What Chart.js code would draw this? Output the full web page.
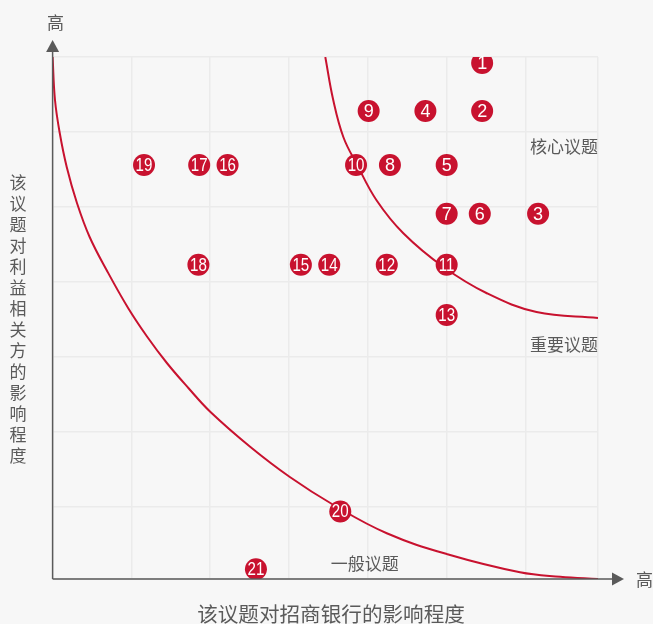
<!DOCTYPE html>
<html>
<head>
<meta charset="utf-8">
<script src="https://cdn.jsdelivr.net/npm/chart.js@4.4.0/dist/chart.umd.min.js"></script>
<style>
  html, body { margin: 0; padding: 0; background: #f7f7f7; }
  #wrap { width: 653px; height: 624px; position: relative; }
</style>
</head>
<body>
<div id="wrap"><canvas id="matrix"></canvas></div>
<script>
// Issue ids and their positions (x: impact on the bank, y: impact on stakeholders)
const issueIds = [1, 2, 3, 4, 5, 6, 7, 8, 9, 10, 11, 12, 13, 14, 15, 16, 17, 18, 19, 20, 21];
const impactOnBank = [5.45, 5.45, 6.16, 4.73, 5.00, 5.42, 5.00, 4.28, 4.01, 3.85, 5.00, 4.24, 5.00, 3.51, 3.15, 2.22, 1.86, 1.85, 1.16, 3.65, 2.58];
const impactOnStakeholders = [6.92, 6.28, 4.91, 6.28, 5.56, 4.91, 4.91, 5.56, 6.28, 5.56, 4.23, 4.23, 3.56, 4.23, 4.23, 5.56, 5.56, 4.23, 5.56, 0.94, 0.17];

// Boundary curves
const innerCurveX = [0.00, 0.03, 0.09, 0.18, 0.31, 0.47, 0.69, 0.96, 1.20, 1.45, 1.72, 2.00, 2.51, 3.01, 3.56, 4.24, 5.01, 5.93, 6.44, 6.92];
const innerCurveY = [7.00, 6.43, 5.99, 5.53, 5.05, 4.60, 4.15, 3.65, 3.27, 2.92, 2.59, 2.27, 1.80, 1.40, 1.03, 0.65, 0.37, 0.13, 0.07, 0.04];
const outerCurveX = [3.46, 3.56, 3.69, 3.86, 4.11, 4.45, 4.96, 5.51, 6.14, 6.92];
const outerCurveY = [7.00, 6.43, 5.93, 5.57, 5.09, 4.65, 4.20, 3.85, 3.60, 3.52];

// Zone labels
const zoneNames = ['核心议题', '重要议题', '一般议题'];
const zoneX = [6.92, 6.92, 3.96];
const zoneY = [5.81, 3.17, 0.25];
const zoneAlign = ['right', 'right', 'center'];

const xTitle = '该议题对招商银行的影响程度';
const yTitle = '该议题对利益相关方的影响程度';
const highLabel = '高';

const RED = '#c8122f';
const GREY = '#5a5a5a';
const CJK = '"Noto Sans CJK SC", "Noto Sans", sans-serif';

const toPoints = (xs, ys) => xs.map((x, i) => ({ x, y: ys[i] }));

// draws arrows, axis titles, zone labels and the numbers in the circles
const decorPlugin = {
  id: 'decor',
  afterDatasetsDraw(chart) {
    const { ctx, chartArea: a, scales } = chart;
    ctx.save();

    // axes
    ctx.strokeStyle = GREY;
    ctx.fillStyle = GREY;
    ctx.lineWidth = 1.5;
    ctx.beginPath();
    ctx.moveTo(a.left, a.bottom);
    ctx.lineTo(a.left, a.top - 5);
    ctx.moveTo(a.left, a.bottom);
    ctx.lineTo(a.right + 15, a.bottom);
    ctx.stroke();

    ctx.beginPath();
    ctx.moveTo(a.left, a.top - 17);
    ctx.lineTo(a.left - 6.5, a.top - 5);
    ctx.lineTo(a.left + 6.5, a.top - 5);
    ctx.closePath();
    ctx.fill();

    ctx.beginPath();
    ctx.moveTo(a.right + 26, a.bottom);
    ctx.lineTo(a.right + 14, a.bottom - 6.5);
    ctx.lineTo(a.right + 14, a.bottom + 6.5);
    ctx.closePath();
    ctx.fill();

    // axis labels
    ctx.font = '17px ' + CJK;
    ctx.textBaseline = 'middle';
    ctx.textAlign = 'center';
    ctx.fillText(highLabel, a.left + 3, a.top - 34);
    ctx.textAlign = 'left';
    ctx.fillText(highLabel, a.right + 38, a.bottom + 1);

    const chars = Array.from(yTitle);
    const step = 21;
    const yStart = 319 - (chars.length - 1) * step / 2;
    ctx.textAlign = 'center';
    chars.forEach((c, i) => ctx.fillText(c, 18, yStart + i * step));

    ctx.font = '20.6px ' + CJK;
    ctx.fillText(xTitle, 331, a.bottom + 35);

    // zone labels
    ctx.font = '17px ' + CJK;
    zoneNames.forEach((name, i) => {
      ctx.textAlign = zoneAlign[i];
      ctx.fillText(name, scales.x.getPixelForValue(zoneX[i]), scales.y.getPixelForValue(zoneY[i]));
    });

    // numbers in the circles
    const meta = chart.getDatasetMeta(0);
    ctx.fillStyle = '#ffffff';
    ctx.textAlign = 'center';
    meta.data.forEach((pt, i) => {
      const label = String(issueIds[i]);
      ctx.save();
      ctx.translate(pt.x, pt.y + 1);
      if (label.length > 1) ctx.scale(0.84, 1);
      ctx.font = '18px "Liberation Sans", Arial, sans-serif';
      ctx.fillText(label, 0, 0);
      ctx.restore();
    });

    ctx.restore();
  }
};

const curveStyle = {
  type: 'line',
  borderColor: RED,
  borderWidth: 2,
  pointRadius: 0,
  tension: 0.4,
  fill: false,
  order: 2
};

const chart = new Chart(document.getElementById('matrix'), {
  type: 'scatter',
  data: {
    datasets: [
      {
        label: 'issues',
        data: toPoints(impactOnBank, impactOnStakeholders),
        backgroundColor: RED,
        borderColor: RED,
        borderWidth: 0,
        pointRadius: 11,
        pointHoverRadius: 11,
        order: 1
      },
      Object.assign({ label: 'inner', data: toPoints(innerCurveX, innerCurveY) }, curveStyle),
      Object.assign({ label: 'outer', data: toPoints(outerCurveX, outerCurveY) }, curveStyle)
    ]
  },
  options: {
    responsive: true,
    maintainAspectRatio: false,
    animation: false,
    layout: { padding: { left: 52.6, right: 55, top: 57, bottom: 45 } },
    plugins: { legend: { display: false }, tooltip: { enabled: false } },
    scales: {
      x: {
        type: 'linear', min: 0, max: 6.92,
        ticks: { display: false, stepSize: 1 },
        grid: { color: '#ebebeb', lineWidth: 1.5, drawTicks: false },
        border: { display: false }
      },
      y: {
        type: 'linear', min: 0.04, max: 7,
        ticks: { display: false, stepSize: 1 },
        grid: { color: '#ebebeb', lineWidth: 1.5, drawTicks: false },
        border: { display: false }
      }
    }
  },
  plugins: [decorPlugin]
});
</script>
</body>
</html>
